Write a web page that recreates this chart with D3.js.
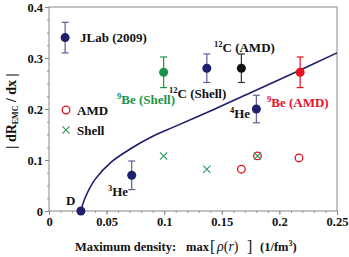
<!DOCTYPE html>
<html>
<head>
<meta charset="utf-8">
<script src="https://cdn.jsdelivr.net/npm/d3@7"></script>
<style>
  body { margin: 0; background: #fff; }
  text { font-family: "Liberation Serif", "Times New Roman", "DejaVu Serif", serif; font-weight: bold; }
</style>
</head>
<body>
<svg id="chart"></svg>
<script>
// measured points with error bars
const expNames = ["JLab", "D", "3He", "9Be (Shell)", "12C (Shell)", "12C (AMD)", "4He", "9Be (AMD)"];
const expX = [0.014, 0.0277, 0.0718, 0.0995, 0.137, 0.167, 0.180, 0.218];
const expY = [0.340, 0.0, 0.070, 0.272, 0.280, 0.280, 0.200, 0.272];
const expErr = [0.030, 0, 0.028, 0.030, 0.028, 0.028, 0.027, 0.030];
const expKind = ["exp", "exp", "exp", "shell", "exp", "amd", "exp", "amd"];

// model values
const amdX = [0.167, 0.181, 0.217];
const amdY = [0.082, 0.108, 0.104];
const shellX = [0.0995, 0.137, 0.181];
const shellY = [0.108, 0.082, 0.108];

// fitted curve
const fitX = [0.0277, 0.031, 0.040, 0.054, 0.0715, 0.088, 0.1075, 0.145, 0.174, 0.214, 0.25];
const fitY = [0.0, 0.024, 0.062, 0.096, 0.123, 0.144, 0.164, 0.201, 0.231, 0.272, 0.31];

const xTicks = [0, 0.05, 0.1, 0.15, 0.2, 0.25];
const yTicks = [0, 0.1, 0.2, 0.3, 0.4];

const margin = { top: 7, right: 12, bottom: 46, left: 49 };
const width = 349 - margin.left - margin.right;
const height = 257 - margin.top - margin.bottom;

const dotColor = { exp: "#1f1f6b", shell: "#1a934a", amd: "#e8101e" };
const barColor = { exp: "#5d5d98", shell: "#1a934a", amd: "#e8101e" };
const navy = "#1f1f6b";

const root = d3.select('#chart').attr('width', 349).attr('height', 257);
const svg = root.append('g').attr('transform', `translate(${margin.left},${margin.top})`);

const x = d3.scaleLinear().domain([0, 0.25]).range([0, width]);
const y = d3.scaleLinear().domain([0, 0.4]).range([height, 0]);

// minor ticks
svg.append('g')
  .attr('transform', `translate(0,${height})`)
  .call(d3.axisBottom(x).tickValues(d3.range(0, 0.2501, 0.01)).tickSize(2).tickFormat(''))
  .call(g => g.select('.domain').remove())
  .selectAll('line').attr('stroke', '#999');
svg.append('g')
  .call(d3.axisLeft(y).tickValues(d3.range(0, 0.401, 0.025)).tickSize(2).tickFormat(''))
  .call(g => g.select('.domain').remove())
  .selectAll('line').attr('stroke', '#999');

// major axes
const xAxis = svg.append('g')
  .attr('transform', `translate(0,${height})`)
  .call(d3.axisBottom(x).tickValues(xTicks).tickSize(4).tickPadding(2).tickFormat(d => d === 0 ? '0' : String(+d.toFixed(2))));
const yAxis = svg.append('g')
  .call(d3.axisLeft(y).tickValues(yTicks).tickSize(4).tickPadding(2).tickFormat(d => d === 0 ? '0' : String(+d.toFixed(1))));
[xAxis, yAxis].forEach(a => {
  a.select('.domain').remove();
  a.selectAll('line').attr('stroke', '#888');
  a.selectAll('text').attr('fill', '#111').style('font-size', '12.5px')
    .style('font-family', '"Liberation Serif", "Times New Roman", serif').style('font-weight', 'bold');
});

// frame
svg.append('rect')
  .attr('width', width).attr('height', height)
  .attr('fill', 'none').attr('stroke', '#888').attr('stroke-width', 1);

// fit curve
const fitData = fitX.map((v, i) => [v, fitY[i]]);
svg.append('path')
  .datum(fitData)
  .attr('fill', 'none')
  .attr('stroke', navy)
  .attr('stroke-width', 1.6)
  .attr('d', d3.line().x(d => x(d[0])).y(d => y(d[1])).curve(d3.curveCatmullRom));

// model markers
svg.selectAll('.amd')
  .data(amdX.map((v, i) => [v, amdY[i]]))
  .enter().append('circle')
  .attr('cx', d => x(d[0])).attr('cy', d => y(d[1])).attr('r', 3.8)
  .attr('fill', 'none').attr('stroke', '#e8101e').attr('stroke-width', 1.3);

const cross = (g, cx, cy) => {
  const s = 3.6;
  g.append('path')
    .attr('d', `M${cx - s},${cy - s}L${cx + s},${cy + s}M${cx - s},${cy + s}L${cx + s},${cy - s}`)
    .attr('stroke', '#2a9a5a').attr('stroke-width', 1.1).attr('fill', 'none');
};
shellX.forEach((v, i) => cross(svg, x(v), y(shellY[i])));

// error bars and points
const exp = expX.map((v, i) => ({ x: v, y: expY[i], e: expErr[i], k: expKind[i], n: expNames[i] }));
const bars = svg.selectAll('.err').data(exp.filter(d => d.e > 0)).enter().append('g')
  .attr('stroke', d => d.n === "12C (AMD)" ? '#333' : barColor[d.k]).attr('stroke-width', 1.2);
bars.append('line')
  .attr('x1', d => x(d.x)).attr('x2', d => x(d.x))
  .attr('y1', d => y(d.y + d.e)).attr('y2', d => y(d.y - d.e));
bars.append('line')
  .attr('x1', d => x(d.x) - 3.5).attr('x2', d => x(d.x) + 3.5)
  .attr('y1', d => y(d.y + d.e)).attr('y2', d => y(d.y + d.e));
bars.append('line')
  .attr('x1', d => x(d.x) - 3.5).attr('x2', d => x(d.x) + 3.5)
  .attr('y1', d => y(d.y - d.e)).attr('y2', d => y(d.y - d.e));

svg.selectAll('.pt').data(exp).enter().append('circle')
  .attr('cx', d => x(d.x)).attr('cy', d => y(d.y)).attr('r', 4.5)
  .attr('fill', d => d.n === "12C (AMD)" ? '#111' : dotColor[d.k]);

// labels (page coordinates); a leading superscript is given separately
function label(px, py, sup, rest, color) {
  const t = root.append('text').attr('x', px).attr('y', py)
    .attr('fill', color || '#111').style('font-size', '13px');
  if (sup) {
    t.append('tspan').attr('dy', -5).style('font-size', '8.5px').text(sup);
    t.append('tspan').attr('dy', 5).text(rest);
  } else {
    t.append('tspan').text(rest);
  }
  return t;
}
label(80, 42, null, "JLab (2009)");
label(214, 52, "12", "C (AMD)");
label(117, 104, "9", "Be (Shell)", '#1a934a');
label(169, 98, "12", "C (Shell)");
label(230, 118, "4", "He");
label(267, 107, "9", "Be (AMD)", '#e8101e');
label(108, 196, "3", "He");
label(66, 205, null, "D");

// legend
root.append('circle').attr('cx', 66).attr('cy', 110).attr('r', 3.8)
  .attr('fill', 'none').attr('stroke', '#e8101e').attr('stroke-width', 1.3);
label(77, 115, null, "AMD");
cross(root, 66, 130);
label(77, 135, null, "Shell");

// y label
const yl = root.append('text')
  .attr('transform', 'translate(16,111) rotate(-90)')
  .attr('text-anchor', 'middle').attr('fill', '#111').style('font-size', '14px');
yl.append('tspan').text('| dR');
yl.append('tspan').attr('dy', 2).style('font-size', '8px').text('EMC');
yl.append('tspan').attr('dy', -2).text(' / dx |');

// x label
const xl = root.append('text').attr('y', 251).attr('fill', '#111').style('font-size', '12.5px');
xl.append('tspan').attr('x', 75).text('Maximum density:');
xl.append('tspan').attr('x', 186).text('max');
xl.append('tspan').attr('x', 210).attr('dy', 1).style('font-size', '16px').style('font-weight', 'normal').text('[');
xl.append('tspan').attr('x', 217).attr('dy', -1).style('font-size', '14px').style('font-style', 'italic').style('font-weight', 'normal').text('ρ');
xl.append('tspan').style('font-size', '14px').style('font-weight', 'normal').text('(');
xl.append('tspan').style('font-size', '14px').style('font-style', 'italic').style('font-weight', 'normal').text('r');
xl.append('tspan').style('font-size', '14px').style('font-weight', 'normal').text(')');
xl.append('tspan').attr('x', 247).attr('dy', 1).style('font-size', '16px').style('font-weight', 'normal').text(']');
xl.append('tspan').attr('x', 260).attr('dy', -1).text('(1/fm');
xl.append('tspan').attr('dy', -5).style('font-size', '8px').text('3');
xl.append('tspan').attr('dy', 5).text(')');
</script>
</body>
</html>
